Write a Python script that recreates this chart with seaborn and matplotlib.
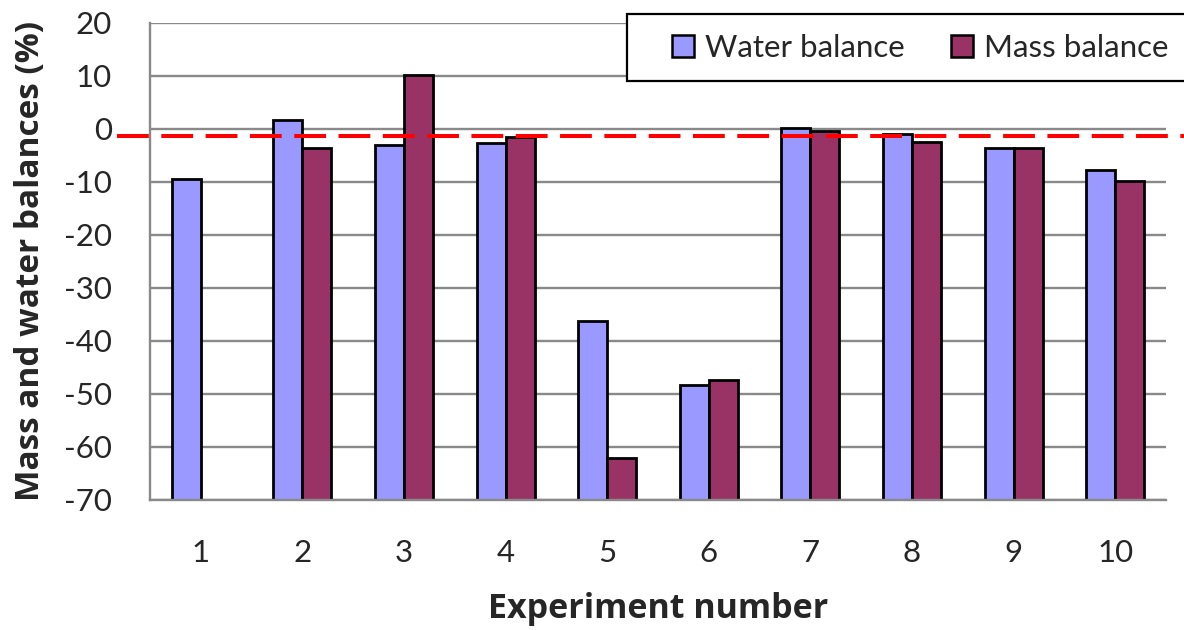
import numpy as np
import pandas as pd
import matplotlib
matplotlib.use("Agg")
import matplotlib.pyplot as plt
from matplotlib.patches import Patch, Rectangle
import seaborn as sns

# ---- data ----
experiments = ["1", "2", "3", "4", "5", "6", "7", "8", "9", "10"]
water_balance = [-9.4, 1.7, -3.1, -2.6, -36.3, -48.3, 0.1, -1.0, -3.6, -7.8]
mass_balance = [np.nan, -3.6, 10.1, -1.6, -62.1, -47.3, -0.4, -2.5, -3.6, -9.9]
series_names = ["Water balance", "Mass balance"]
reference_level = -1.3
y_ticks = [-70, -60, -50, -40, -30, -20, -10, 0, 10, 20]

df = pd.DataFrame({
    "Experiment": experiments * 2,
    "Balance": water_balance + mass_balance,
    "Series": [series_names[0]] * len(experiments) + [series_names[1]] * len(experiments),
})

sns.set_style("white")
plt.rcParams["font.family"] = ["Lato", "DejaVu Sans"]
plt.rcParams["axes.unicode_minus"] = False

colors = ["#9999FF", "#993366"]
grid_c = "#898989"
BASE = y_ticks[0]

fig = plt.figure(figsize=(11.84, 6.3), dpi=100)
ax = fig.add_axes([150 / 1184, 1 - 500 / 630, 1016 / 1184, (500 - 22.7) / 630])

sns.barplot(data=df, x="Experiment", y="Balance", hue="Series",
            hue_order=series_names, order=experiments, palette=colors,
            saturation=1, width=0.57, dodge=True, errorbar=None,
            edgecolor="black", linewidth=2.0, legend=False, ax=ax, zorder=2)

# Excel-style: bars rise from the bottom of the axis
for p in ax.patches:
    h = p.get_height()
    p.set_y(BASE)
    p.set_height(h - BASE)

ax.set_ylim(BASE, y_ticks[-1])
ax.set_xlim(-0.5, len(experiments) - 0.5)
ax.set_yticks(y_ticks)
ax.set_yticklabels([str(t) for t in y_ticks])
ax.yaxis.grid(True, color=grid_c, linewidth=1.7, zorder=0)
ax.xaxis.grid(False)
ax.set_axisbelow(True)

for s in ["top", "right"]:
    ax.spines[s].set_visible(False)
for s in ["left", "bottom"]:
    ax.spines[s].set_color(grid_c)
    ax.spines[s].set_linewidth(1.7)

ax.set_xticks(np.arange(-0.5, len(experiments), 1), minor=True)
ax.tick_params(axis="x", which="major", length=0, pad=28, labelsize=22.5)
ax.tick_params(axis="x", which="minor", length=6.5, width=1.7, color=grid_c, direction="out")
ax.tick_params(axis="y", length=8.6, width=1.7, color=grid_c, pad=19, labelsize=22.5)

ax.axhline(reference_level, xmin=-0.0325, xmax=1.02, color="red", linewidth=2.9,
           dashes=(7.9, 3.1), clip_on=False, zorder=4)

label_font = dict(family=["Open Sans", "DejaVu Sans"], fontweight="bold")
ax.set_xlabel("Experiment number", fontsize=24.5, **label_font)
ax.set_ylabel("Mass and water balances (%)", fontsize=24, **label_font)
ax.xaxis.label.set_va("center")
ax.xaxis.set_label_coords(0.5, -(609 - 500) / 477.3)
ax.yaxis.label.set_va("center")
ax.yaxis.set_label_coords((31 - 150) / 1016, 0.5)

# legend box
frame = Rectangle((627 / 1184, 1 - 81 / 630), (1200 - 627) / 1184, 67 / 630,
                  transform=fig.transFigure, facecolor="white", edgecolor="black",
                  linewidth=1.6, zorder=5, clip_on=False)
fig.patches.append(frame)
handles = [Patch(facecolor=c, edgecolor="black", linewidth=1.8) for c in colors]
leg = fig.legend(handles, series_names, loc="center left",
                 bbox_to_anchor=(672 / 1184, 1 - 48 / 630), ncol=2, frameon=False,
                 fontsize=22.5, handlelength=0.7, handleheight=0.7,
                 handletextpad=0.35, columnspacing=1.5, borderpad=0, borderaxespad=0)
leg.set_zorder(6)

fig.savefig("out.png", dpi=100)
